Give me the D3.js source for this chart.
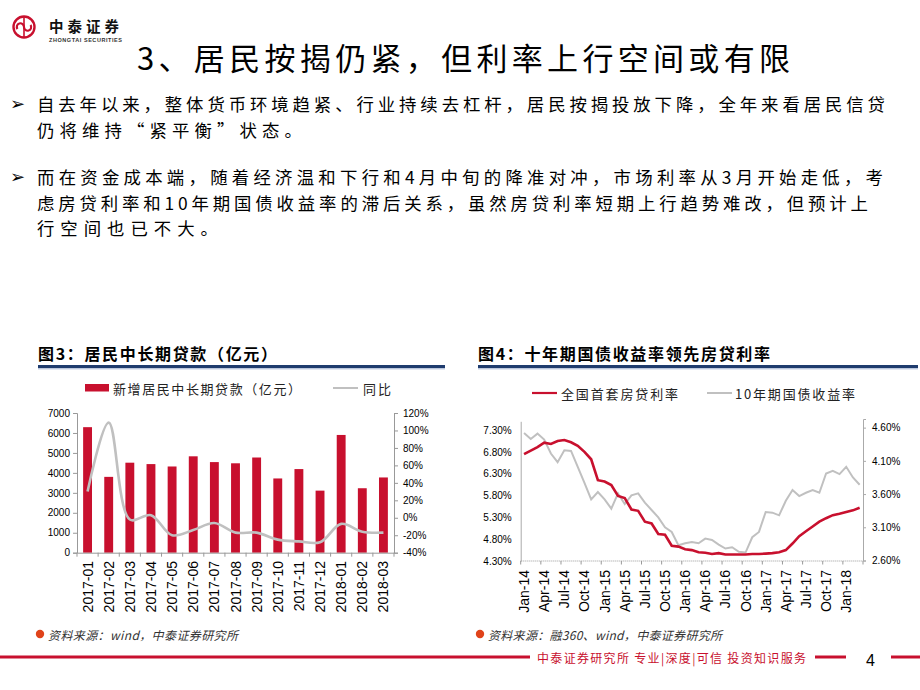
<!DOCTYPE html>
<html><head><meta charset="utf-8">
<script src="https://cdn.jsdelivr.net/npm/d3@7"></script>
<style>body{margin:0;background:#fff}</style></head>
<body><svg id="s" width="920" height="690" xmlns="http://www.w3.org/2000/svg"></svg>
<script>
// ---------- data ----------
const loanMonths = ["2017-01","2017-02","2017-03","2017-04","2017-05","2017-06","2017-07","2017-08","2017-09","2017-10","2017-11","2017-12","2018-01","2018-02","2018-03"];
const loanValues = [6290,3800,4510,4440,4320,4830,4540,4480,4770,3720,4190,3110,5900,3230,3770];
const loanYoY = [30,109,-2,3,-20,-14,-6,-17,-17,-25,-27,-28,-7,-16,-17];
const loanLeftTicks = [0,1000,2000,3000,4000,5000,6000,7000];
const loanRightTicks = [-40,-20,0,20,40,60,80,100,120];

const rateMonths = ["Jan-14","Feb-14","Mar-14","Apr-14","May-14","Jun-14","Jul-14","Aug-14","Sep-14","Oct-14","Nov-14","Dec-14",
"Jan-15","Feb-15","Mar-15","Apr-15","May-15","Jun-15","Jul-15","Aug-15","Sep-15","Oct-15","Nov-15","Dec-15",
"Jan-16","Feb-16","Mar-16","Apr-16","May-16","Jun-16","Jul-16","Aug-16","Sep-16","Oct-16","Nov-16","Dec-16",
"Jan-17","Feb-17","Mar-17","Apr-17","May-17","Jun-17","Jul-17","Aug-17","Sep-17","Oct-17","Nov-17","Dec-17",
"Jan-18","Feb-18","Mar-18"];
const mortgageRate = [6.75,6.83,6.91,7.01,6.98,7.05,7.07,7.02,6.94,6.80,6.63,6.15,
6.12,6.04,5.79,5.74,5.48,5.45,5.20,5.16,4.92,4.90,4.65,4.63,
4.57,4.55,4.50,4.49,4.46,4.48,4.45,4.45,4.45,4.45,4.46,4.46,
4.47,4.48,4.50,4.55,4.70,4.87,4.98,5.09,5.20,5.28,5.35,5.38,
5.42,5.46,5.52];
const bondYield = [4.52,4.43,4.51,4.42,4.21,4.08,4.26,4.25,4.01,3.77,3.52,3.63,
3.52,3.38,3.61,3.45,3.58,3.61,3.47,3.36,3.25,3.10,3.03,2.83,
2.86,2.88,2.86,2.93,2.91,2.84,2.78,2.80,2.73,2.72,2.95,3.03,
3.33,3.32,3.28,3.50,3.66,3.57,3.62,3.66,3.62,3.91,3.95,3.90,
4.01,3.85,3.74];
const rateLeftTicks = [4.3,4.8,5.3,5.8,6.3,6.8,7.3];
const rateRightTicks = [2.6,3.1,3.6,4.1,4.6];

const para1 = ["自去年以来，整体货币环境趋紧、行业持续去杠杆，居民按揭投放下降，全年来看居民信贷","仍将维持“紧平衡”状态。"];
const para2 = ["而在资金成本端，随着经济温和下行和4月中旬的降准对冲，市场利率从3月开始走低，考","虑房贷利率和10年期国债收益率的滞后关系，虽然房贷利率短期上行趋势难改，但预计上","行空间也已不大。"];

// ---------- setup ----------
const CJK = "'Noto Sans CJK SC','Noto Sans',sans-serif";
const NUM = "'Liberation Sans',Arial,sans-serif";
const RED = "#c8102e";
const GRAY = "#c0c0c0";
const svg = d3.select("#s");
svg.append("rect").attr("width",920).attr("height",690).attr("fill","#fff");

// logo
const logo = svg.append("g");
logo.append("circle").attr("cx",24).attr("cy",27).attr("r",10.5).attr("fill","none").attr("stroke",RED).attr("stroke-width",2.4);
logo.append("path").attr("d","M17.5,29 a3.6,3.6 0 1 1 6.5,-2 a3.6,3.6 0 1 0 6.5,-2").attr("fill","none").attr("stroke",RED).attr("stroke-width",2.2);
logo.append("line").attr("x1",24).attr("x2",24).attr("y1",17).attr("y2",37).attr("stroke",RED).attr("stroke-width",1.6);
logo.append("text").attr("x",49).attr("y",25).attr("dominant-baseline","central").attr("font-family",CJK).attr("font-weight","bold").attr("font-size",14.5).attr("textLength",70).attr("fill","#111").text("中泰证券");
logo.append("text").attr("x",49).attr("y",40).attr("dominant-baseline","central").attr("font-family",NUM).attr("font-weight","bold").attr("font-size",5.5).attr("textLength",73).attr("fill","#333").text("ZHONGTAI SECURITIES");

// title
svg.append("text").attr("x",137).attr("y",56).attr("dominant-baseline","central").attr("font-family",CJK).attr("font-size",31).attr("textLength",653).attr("lengthAdjust","spacing").attr("fill","#000").text("3、居民按揭仍紧，但利率上行空间或有限");

// body paragraphs
function bullet(y){
  svg.append("text").attr("x",10).attr("y",y).attr("dominant-baseline","central").attr("font-family","'DejaVu Sans',sans-serif").attr("font-size",18).attr("fill","#000").text("➢");
}
bullet(103); bullet(176.5);
function paragraph(lines, ys, widths){
  lines.forEach((s,i)=>{
    svg.append("text").attr("x",37).attr("y",ys[i]).attr("dominant-baseline","central")
      .attr("font-family",CJK).attr("font-size",17.4).attr("fill","#000")
      .attr("textLength",widths[i]).attr("lengthAdjust","spacing").text(s);
  });
}
paragraph(para1,[103,129],[848,265]);
paragraph(para2,[176.5,202,227.5],[846,831,181]);

// chart titles + underline
function chartTitle(x,t,w,x2){
  svg.append("text").attr("x",x).attr("y",353).attr("dominant-baseline","central").attr("font-family",CJK).attr("font-weight","bold").attr("font-size",16).attr("textLength",w).attr("lengthAdjust","spacing").attr("fill","#000").text(t);
  svg.append("line").attr("x1",x).attr("x2",x2).attr("y1",366.5).attr("y2",366.5).attr("stroke","#1f3c6e").attr("stroke-width",3);
  svg.append("line").attr("x1",x).attr("x2",x2).attr("y1",368.8).attr("y2",368.8).attr("stroke","#9fb0cf").attr("stroke-width",1);
}
chartTitle(38,"图3：居民中长期贷款（亿元）",239,445);
chartTitle(478,"图4：十年期国债收益率领先房贷利率",292,918);

// sources
function source(x,t,w){
  svg.append("circle").attr("cx",x).attr("cy",634).attr("r",4.2).attr("fill","#e0431a");
  svg.append("text").attr("x",x+8).attr("y",634).attr("dominant-baseline","central").attr("font-family",CJK).attr("font-style","italic").attr("font-size",12).attr("textLength",w).attr("lengthAdjust","spacing").attr("fill","#333").text(t);
}
source(40,"资料来源：wind，中泰证券研究所",190);
source(480,"资料来源：融360、wind，中泰证券研究所",234);

// ---------- chart 1 ----------
const c1 = svg.append("g");
const x1 = d3.scaleBand().domain(loanMonths).range([77,394]).padding(0);
const yL1 = d3.scaleLinear().domain([0,7000]).range([552.7,413]);
const yR1 = d3.scaleLinear().domain([-40,120]).range([552.7,413]);
const bw = x1.bandwidth()*0.42;
c1.selectAll("rect.bar").data(loanValues).join("rect").attr("class","bar")
  .attr("x",(d,i)=>x1(loanMonths[i])+x1.bandwidth()/2-bw/2).attr("width",bw)
  .attr("y",d=>yL1(d)).attr("height",d=>yL1(0)-yL1(d)).attr("fill",RED);
c1.append("path").datum(loanYoY).attr("fill","none").attr("stroke",GRAY).attr("stroke-width",2.6)
  .attr("d",d3.line().x((d,i)=>x1(loanMonths[i])+x1.bandwidth()/2).y(d=>yR1(d)).curve(d3.curveCatmullRom.alpha(0.5)));
// axes
const axL1 = c1.append("g").attr("transform","translate(77,0)").call(d3.axisLeft(yL1).tickValues(loanLeftTicks).tickSize(4).tickPadding(3).tickFormat(d3.format("d")));
const axR1 = c1.append("g").attr("transform","translate(394,0)").call(d3.axisRight(yR1).tickValues(loanRightTicks).tickSize(4).tickPadding(5).tickFormat(d=>d+"%"));
const axB1 = c1.append("g").attr("transform","translate(0,552.7)").call(d3.axisBottom(x1).tickSize(0).tickFormat(""));
c1.selectAll("line.bt").data(d3.range(loanMonths.length+1)).join("line").attr("class","bt")
  .attr("x1",i=>77+i*x1.step()).attr("x2",i=>77+i*x1.step()).attr("y1",552.7).attr("y2",556.7).attr("stroke","#999");
[axL1,axR1,axB1].forEach(a=>{a.select(".domain").attr("stroke","#999"); a.selectAll(".tick line").attr("stroke","#999"); a.selectAll("text").attr("font-family",NUM).attr("font-size",10).attr("fill","#000");});
c1.selectAll("text.cat").data(loanMonths).join("text").attr("class","cat")
  .attr("transform",d=>`translate(${x1(d)+x1.bandwidth()/2},561) rotate(-90)`)
  .attr("text-anchor","end").attr("dominant-baseline","central").attr("font-family",NUM).attr("font-size",14).attr("fill","#000").text(d=>d);
// legend
c1.append("rect").attr("x",85).attr("y",384).attr("width",24).attr("height",7.5).attr("fill",RED);
c1.append("text").attr("x",113).attr("y",388).attr("dominant-baseline","central").attr("font-family",CJK).attr("font-size",13).attr("textLength",188).attr("lengthAdjust","spacing").attr("fill","#222").text("新增居民中长期贷款（亿元）");
c1.append("line").attr("x1",333).attr("x2",358).attr("y1",388).attr("y2",388).attr("stroke",GRAY).attr("stroke-width",2);
c1.append("text").attr("x",363).attr("y",388).attr("dominant-baseline","central").attr("font-family",CJK).attr("font-size",13).attr("letter-spacing",2).attr("fill","#222").text("同比");

// ---------- chart 2 ----------
const c2 = svg.append("g");
const x2 = d3.scaleBand().domain(rateMonths).range([520.7,863]).padding(0);
const yL2 = d3.scaleLinear().domain([4.3,7.5]).range([561,421.3]);
const yR2 = d3.scaleLinear().domain([2.6,4.73]).range([560.5,419]);
const cx2 = m => x2(m)+x2.bandwidth()/2;
c2.append("path").datum(bondYield).attr("fill","none").attr("stroke",GRAY).attr("stroke-width",2)
  .attr("d",d3.line().x((d,i)=>cx2(rateMonths[i])).y(d=>yR2(d)));
c2.append("path").datum(mortgageRate).attr("fill","none").attr("stroke",RED).attr("stroke-width",2.6)
  .attr("d",d3.line().x((d,i)=>cx2(rateMonths[i])).y(d=>yL2(d)));
const axL2 = c2.append("g").attr("transform","translate(520.7,0)").call(d3.axisLeft(yL2).tickValues(rateLeftTicks).tickSize(0).tickPadding(9).tickFormat(d=>d.toFixed(2)+"%"));
const axR2 = c2.append("g").attr("transform","translate(863,0)").call(d3.axisRight(yR2).tickValues(rateRightTicks).tickSize(3).tickPadding(6).tickFormat(d=>d.toFixed(2)+"%"));
[axL2,axR2].forEach(a=>{a.select(".domain").attr("stroke","#aaa"); a.selectAll(".tick line").attr("stroke","#aaa"); a.selectAll("text").attr("font-family",NUM).attr("font-size",10).attr("fill","#000");});
c2.append("line").attr("x1",520.7).attr("x2",863).attr("y1",561).attr("y2",561).attr("stroke","#999").attr("stroke-dasharray","1,1");
const qIdx = rateMonths.map((m,i)=>i).filter(i=>i%3===0);
c2.selectAll("line.qt").data(qIdx.concat([51])).join("line").attr("class","qt")
  .attr("x1",i=>520.7+i*x2.step()).attr("x2",i=>520.7+i*x2.step()).attr("y1",561).attr("y2",564.5).attr("stroke","#999");
c2.selectAll("text.cat").data(qIdx).join("text").attr("class","cat")
  .attr("transform",i=>`translate(${cx2(rateMonths[i])},570) rotate(-90)`)
  .attr("text-anchor","end").attr("dominant-baseline","central").attr("font-family",NUM).attr("font-size",14).attr("fill","#000").text(i=>rateMonths[i]);
// legend
c2.append("line").attr("x1",532).attr("x2",557).attr("y1",393).attr("y2",393).attr("stroke",RED).attr("stroke-width",2.2);
c2.append("text").attr("x",561).attr("y",393).attr("dominant-baseline","central").attr("font-family",CJK).attr("font-size",13).attr("textLength",117).attr("lengthAdjust","spacing").attr("fill","#222").text("全国首套房贷利率");
c2.append("line").attr("x1",707).attr("x2",732).attr("y1",393).attr("y2",393).attr("stroke",GRAY).attr("stroke-width",2);
c2.append("text").attr("x",735).attr("y",393).attr("dominant-baseline","central").attr("font-family",CJK).attr("font-size",13).attr("textLength",120).attr("lengthAdjust","spacing").attr("fill","#222").text("10年期国债收益率");

// ---------- footer ----------
svg.append("line").attr("x1",0).attr("x2",530).attr("y1",657).attr("y2",657).attr("stroke",RED).attr("stroke-width",3);
svg.append("text").attr("x",537).attr("y",657).attr("dominant-baseline","central").attr("font-family",CJK).attr("font-size",12).attr("textLength",269).attr("lengthAdjust","spacing").attr("fill",RED).text("中泰证券研究所 专业|深度|可信 投资知识服务");
svg.append("line").attr("x1",815).attr("x2",846).attr("y1",657).attr("y2",657).attr("stroke",RED).attr("stroke-width",3);
svg.append("text").attr("x",866).attr("y",660).attr("dominant-baseline","central").attr("font-family",NUM).attr("font-size",16).attr("fill","#000").text("4");
svg.append("line").attr("x1",891).attr("x2",920).attr("y1",657).attr("y2",657).attr("stroke",RED).attr("stroke-width",3);
</script></body></html>
